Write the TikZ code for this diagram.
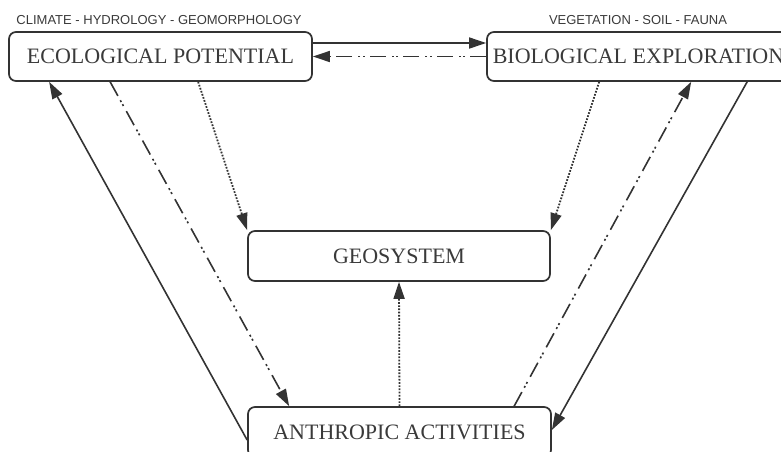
\documentclass[tikz,border=0pt]{standalone}
\usepackage{fontspec}
\setmainfont{Liberation Serif}
\newfontfamily\labelfont{Liberation Sans}
\usetikzlibrary{arrows.meta,calc}
\definecolor{ink}{HTML}{333333}
\definecolor{textink}{HTML}{3A3A3A}
\tikzset{
  box/.style={draw=ink, line width=1.7pt, rounded corners=7pt, inner sep=0pt,
    minimum width=303pt, minimum height=49pt, text=textink, font=\fontsize{22}{24}\selectfont},
  toplabel/.style={text=textink, inner sep=0pt, font=\labelfont\fontsize{13}{15}\selectfont},
  conn/.style={draw=ink, line width=1.6pt, -{Triangle[length=17pt,width=11pt]}},
  dashdotdot/.style={dash pattern=on 16pt off 5pt on 2pt off 2.5pt on 2pt off 6pt},
  dotline/.style={line width=1.8pt, dash pattern=on 1.7pt off 1.5pt},
}
\begin{document}
\begin{tikzpicture}[x=1pt,y=-1pt]
\useasboundingbox (0,0) rectangle (781,451);
\begin{scope}
\clip (0,0) rectangle (781,451);
\node[box] (EP) at (160.5,56.5) {ECOLOGICAL POTENTIAL};
\node[box] (BE) at (638.5,56.5) {BIOLOGICAL EXPLORATION};
\node[box, minimum width=302pt, minimum height=50pt] (GEO) at (399,256) {GEOSYSTEM};
\node[box, minimum width=303pt, minimum height=50pt] (AA) at (399.5,432) {ANTHROPIC ACTIVITIES};
\end{scope}
\node[toplabel] (EPlab) at (159,20) {CLIMATE - HYDROLOGY - GEOMORPHOLOGY};
\node[toplabel] (BElab) at (638,20) {VEGETATION - SOIL - FAUNA};

% EP <-> BE
\draw[conn] ($(EP.east)+(0,-13.5)$) -- ($(BE.west)+(0,-13.5)$);
\draw[conn, dashdotdot] (BE.west) -- (EP.east);

% left side
\draw[conn] ($(AA.west)+(0,8)$) -- ($(EP.south west)+(41,0)$);
\draw[conn, dashdotdot] ($(EP.south west)+(102,0)$) -- ($(AA.north west)+(42,0)$);
\draw[conn, dotline] ($(EP.south west)+(190,0)$) -- (GEO.north west);

% right side
\draw[conn, dotline] ($(BE.south west)+(113,0)$) -- (GEO.north east);
\draw[conn, dashdotdot] ($(AA.north west)+(267,0)$) -- ($(BE.south west)+(205,0)$);
\draw[conn] ($(BE.south west)+(261,0)$) -- ($(AA.east)+(0,-2)$);

% centre
\draw[conn, dotline] (AA.north) -- (GEO.south);
\end{tikzpicture}
\end{document}
